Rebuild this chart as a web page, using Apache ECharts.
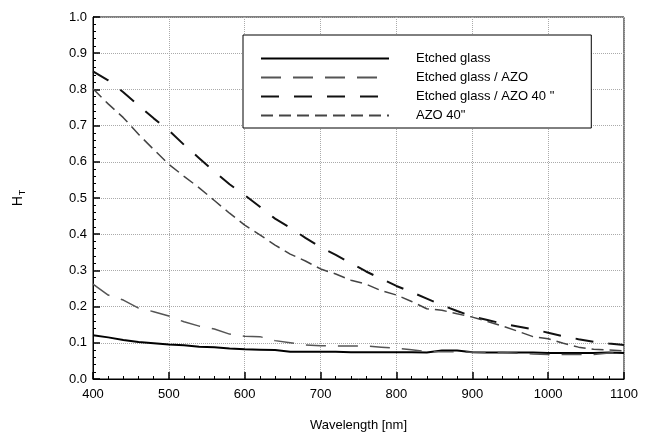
<!DOCTYPE html>
<html><head><meta charset="utf-8">
<script src="https://cdn.jsdelivr.net/npm/echarts@6/dist/echarts.min.js"></script>
<style>html,body{margin:0;padding:0;background:#fff}#c{width:646px;height:447px}</style>
</head><body><div id="c"></div>
<script>
var wavelengths = [400,420,440,460,480,500,520,540,560,580,600,620,640,660,680,700,720,740,760,780,800,820,840,860,880,900,920,940,960,980,1000,1020,1040,1060,1080,1100];
var etchedGlass = [0.121,0.115,0.108,0.102,0.099,0.095,0.093,0.089,0.088,0.084,0.082,0.081,0.080,0.075,0.075,0.075,0.075,0.074,0.074,0.074,0.074,0.074,0.073,0.079,0.079,0.074,0.073,0.073,0.073,0.073,0.072,0.072,0.072,0.072,0.073,0.072];
var etchedAZO = [0.262,0.232,0.218,0.196,0.186,0.174,0.158,0.146,0.138,0.124,0.118,0.117,0.106,0.100,0.094,0.092,0.091,0.091,0.091,0.088,0.085,0.081,0.076,0.075,0.075,0.074,0.073,0.073,0.071,0.069,0.068,0.068,0.068,0.068,0.072,0.072];
var etchedAZO40 = [0.850,0.825,0.792,0.756,0.720,0.687,0.647,0.610,0.573,0.538,0.508,0.476,0.443,0.418,0.390,0.364,0.343,0.320,0.297,0.277,0.257,0.240,0.222,0.204,0.188,0.173,0.163,0.153,0.145,0.137,0.128,0.118,0.110,0.103,0.098,0.094];
var azo40 = [0.802,0.760,0.722,0.676,0.634,0.593,0.560,0.528,0.493,0.458,0.425,0.398,0.370,0.345,0.326,0.304,0.290,0.273,0.262,0.244,0.232,0.214,0.194,0.190,0.180,0.171,0.159,0.146,0.132,0.117,0.111,0.099,0.088,0.082,0.080,0.078];
var seriesNames = ['Etched glass','Etched glass / AZO','Etched glass / AZO 40 "','AZO 40"'];
var xTicks = [400,500,600,700,800,900,1000,1100];
var yTicks = [0,0.1,0.2,0.3,0.4,0.5,0.6,0.7,0.8,0.9,1.0];

function pairs(v){ return wavelengths.map(function(w,i){ return [w, v[i]]; }); }
var FONT = 'Liberation Sans, Arial, sans-serif';
var chart = echarts.init(document.getElementById('c'), null, {renderer:'canvas'});

var styles = [
  {color:'#000', width:2, type:'solid'},
  {color:'#555', width:1.5, type:[20,12]},
  {color:'#111', width:2, type:[18,15]},
  {color:'#444', width:1.5, type:[12,6]}
];
var datas = [etchedGlass, etchedAZO, etchedAZO40, azo40];
var option = {
  backgroundColor:'#fff',
  animation:false,
  grid:{left:93, right:22, top:17, bottom:68, show:true, borderColor:'#000', borderWidth:1, backgroundColor:'transparent'},
  legend:{
    orient:'vertical', left:243, top:35, itemGap:6, itemWidth:128, itemHeight:13,
    padding:[17, 37, 6, 17],
    backgroundColor:'#fff', borderColor:'#000', borderWidth:1,
    data:seriesNames,
    itemStyle:{opacity:0, borderWidth:0},
    textStyle:{fontFamily:FONT, fontSize:13, color:'#000', padding:[0,0,0,22]}
  },
  xAxis:{
    type:'value', min:400, max:1100, interval:100,
    axisLine:{show:true, onZero:false, lineStyle:{color:'#000', width:1}},
    axisTick:{show:true, inside:true, length:7, lineStyle:{color:'#000', width:1.5}},
    minorTick:{show:true, splitNumber:5, length:3, lineStyle:{color:'#000', width:1}},
    axisLabel:{show:true, margin:9, fontFamily:FONT, fontSize:13, color:'#000',
      formatter:function(v){ return String(v); }},
    splitLine:{show:true, lineStyle:{color:'#aaa', width:1, type:'dotted'}},
    name:'Wavelength [nm]', nameLocation:'middle', nameGap:40,
    nameTextStyle:{fontFamily:FONT, fontSize:13, color:'#000'}
  },
  yAxis:{
    type:'value', min:0, max:1.0, interval:0.1,
    axisLine:{show:true, onZero:false, lineStyle:{color:'#000', width:1}},
    axisTick:{show:true, inside:true, length:7, lineStyle:{color:'#000', width:1.5}},
    minorTick:{show:true, splitNumber:5, length:3, lineStyle:{color:'#000', width:1}},
    axisLabel:{show:true, margin:6, fontFamily:FONT, fontSize:13, color:'#000',
      formatter:function(v){ return v.toFixed(1); }},
    splitLine:{show:true, lineStyle:{color:'#aaa', width:1, type:'dotted'}},
    name:'{h|H}{t|T}', nameLocation:'middle', nameGap:66, nameRotate:90,
    nameTextStyle:{fontFamily:FONT, color:'#000', rich:{
      h:{fontFamily:FONT, fontSize:14, color:'#000'},
      t:{fontFamily:FONT, fontSize:9, color:'#000', verticalAlign:'bottom', padding:[8,0,0,1]}
    }}
  },
  series: seriesNames.map(function(n,i){
    return {
      name:n, type:'line',
      data:pairs(datas[i]), showSymbol:false, symbol:'none', smooth:false,
      lineStyle:styles[i], itemStyle:{color:styles[i].color}, z:3
    };
  })
};
chart.setOption(option);
</script></body></html>
